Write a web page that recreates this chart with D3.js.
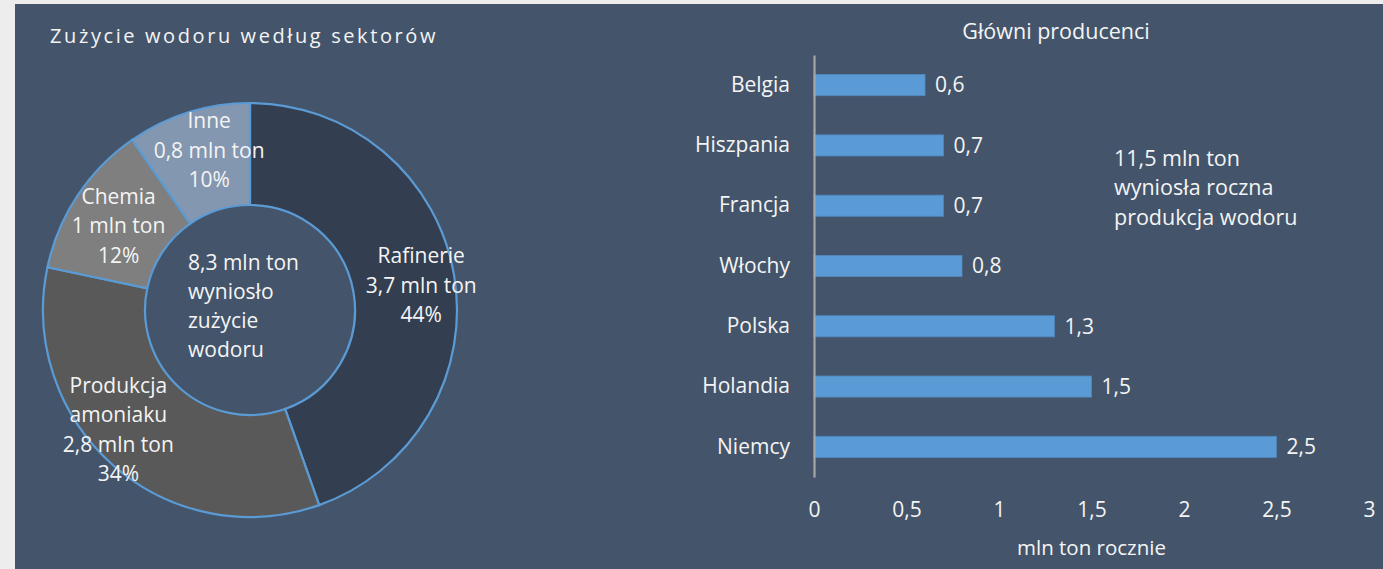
<!DOCTYPE html>
<html lang="pl">
<head>
<meta charset="utf-8">
<script src="https://cdn.jsdelivr.net/npm/d3@7"></script>
<style>
  html, body { margin: 0; padding: 0; background: #ededed; }
  svg { display: block; }
  text { font-family: "Open Sans", "Noto Sans", sans-serif; fill: #f4f4f4; }
</style>
</head>
<body>
<svg id="chart" width="1383" height="569"></svg>
<script>
// Zużycie wodoru według sektorów (mln ton)
const sectors = ["Rafinerie", "Produkcja amoniaku", "Chemia", "Inne"];
const sectorValues = [3.7, 2.8, 1.0, 0.8];
const sectorLabels = [
  ["Rafinerie", "3,7 mln ton", "44%"],
  ["Produkcja", "amoniaku", "2,8 mln ton", "34%"],
  ["Chemia", "1 mln ton", "12%"],
  ["Inne", "0,8 mln ton", "10%"]
];
const centerLines = ["8,3 mln ton", "wyniosło", "zużycie", "wodoru"];

// Główni producenci (mln ton rocznie)
const countries = ["Belgia", "Hiszpania", "Francja", "Włochy", "Polska", "Holandia", "Niemcy"];
const production = [0.6, 0.7, 0.7, 0.8, 1.3, 1.5, 2.5];
const xTicks = [0, 0.5, 1, 1.5, 2, 2.5, 3];
const noteLines = ["11,5 mln ton", "wyniosła roczna", "produkcja wodoru"];

const svg = d3.select("#chart");
const W = 1383, H = 569;
const FS = 21;
const fmt = v => String(v).replace(".", ",");

// panel background
svg.append("rect").attr("x", 0).attr("y", 0).attr("width", W).attr("height", H).attr("fill", "#ededed");
svg.append("rect").attr("x", 15).attr("y", 4).attr("width", W - 15).attr("height", H - 4).attr("fill", "#44546a");

// ---------- donut ----------
svg.append("text")
  .attr("x", 50).attr("y", 36).attr("dy", "0.35em")
  .attr("font-size", 20).attr("letter-spacing", 2.6)
  .attr("fill", "#eeeeee")
  .text("Zużycie wodoru według sektorów");

const cx = 250, cy = 310, rOuter = 207, rInner = 105;
const sliceColors = d3.scaleOrdinal().domain(sectors).range(["#333f50", "#595959", "#7f7f7f", "#8497b0"]);
const pie = d3.pie().sort(null).value(d => d)(sectorValues);
const arc = d3.arc().innerRadius(rInner).outerRadius(rOuter);

const g = svg.append("g").attr("transform", `translate(${cx},${cy})`);
g.selectAll("path.slice").data(pie).join("path")
  .attr("class", "slice")
  .attr("d", arc)
  .attr("fill", (d, i) => sliceColors(sectors[i]))
  .attr("stroke", "#5b9bd5").attr("stroke-width", 2.2);

// label placement: radius and a small angular nudge from each slice's mid-angle
const labelR = [173, 178, 156, 165];
const labelNudge = [1.5, 6.5, -1, 3].map(a => a * Math.PI / 180);
const lineH = 29.5;
pie.forEach((d, i) => {
  const mid = (d.startAngle + d.endAngle) / 2 + labelNudge[i];
  const lx = Math.sin(mid) * labelR[i];
  const ly = -Math.cos(mid) * labelR[i];
  const lines = sectorLabels[i];
  const t = g.append("text").attr("text-anchor", "middle").attr("font-size", FS);
  lines.forEach((s, k) => {
    t.append("tspan").attr("x", lx)
      .attr("y", ly + (k - (lines.length - 1) / 2) * lineH)
      .attr("dy", "0.35em").text(s);
  });
});

const ct = g.append("text").attr("font-size", FS);
centerLines.forEach((s, k) => {
  ct.append("tspan").attr("x", -62)
    .attr("y", (k - 1.5) * 29 - 4).attr("dy", "0.35em").text(s);
});

// ---------- bars ----------
const x = d3.scaleLinear().domain([0, 3]).range([814, 1369]);
const y = d3.scaleBand().domain(countries).range([55, 477]).paddingInner(0.65).paddingOuter(0.325);

svg.append("text").attr("x", 1056).attr("y", 31).attr("dy", "0.35em")
  .attr("text-anchor", "middle").attr("font-size", 21.5).text("Główni producenci");

svg.selectAll("rect.bar").data(production).join("rect")
  .attr("class", "bar")
  .attr("x", x(0))
  .attr("y", (d, i) => y(countries[i]))
  .attr("width", d => x(d) - x(0))
  .attr("height", y.bandwidth())
  .attr("fill", "#5b9bd5")
  .attr("stroke", "#4f89bf").attr("stroke-width", 0.8);

svg.selectAll("text.val").data(production).join("text")
  .attr("class", "val")
  .attr("x", d => x(d) + 10)
  .attr("y", (d, i) => y(countries[i]) + y.bandwidth() / 2)
  .attr("dy", "0.35em").attr("font-size", FS)
  .text(d => fmt(d));

// category axis
const yAxis = svg.append("g").attr("transform", `translate(${x(0)},0)`)
  .call(d3.axisLeft(y).tickSize(0).tickPadding(24));
yAxis.select(".domain").attr("stroke", "#a6a6a6").attr("stroke-width", 2.2);
yAxis.selectAll("text").attr("font-size", FS).attr("fill", "#f4f4f4")
  .style("font-family", "'Open Sans', 'Noto Sans', sans-serif");

// value axis (labels only)
const xAxis = svg.append("g").attr("transform", "translate(0,510)")
  .call(d3.axisBottom(x).tickValues(xTicks).tickSize(0).tickPadding(0).tickFormat(fmt));
xAxis.select(".domain").remove();
xAxis.selectAll("text").attr("font-size", FS).attr("fill", "#f4f4f4")
  .attr("y", 0).attr("dy", "0.35em")
  .style("font-family", "'Open Sans', 'Noto Sans', sans-serif");

svg.append("text").attr("x", (x(0) + x(3)) / 2).attr("y", 548).attr("dy", "0.35em")
  .attr("text-anchor", "middle").attr("font-size", 20.5).text("mln ton rocznie");

const nt = svg.append("text").attr("font-size", 21.5);
noteLines.forEach((s, k) => {
  nt.append("tspan").attr("x", 1114).attr("y", 158 + k * 29.5).attr("dy", "0.35em").text(s);
});
</script>
</body>
</html>
